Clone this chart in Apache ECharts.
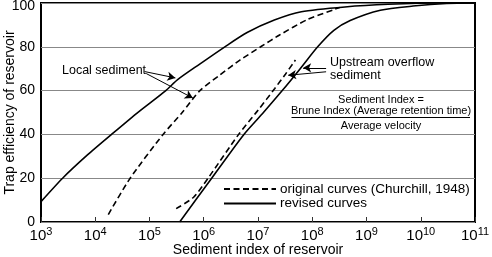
<!DOCTYPE html>
<html>
<head>
<meta charset="utf-8">
<script src="https://cdn.jsdelivr.net/npm/echarts@6/dist/echarts.min.js"></script>
<style>
  html, body { margin: 0; padding: 0; background: #fff; }
  #chart { width: 492px; height: 257px; }
</style>
</head>
<body>
<div id="chart"></div>
<script>
// [sediment index, trap efficiency %]
const localRevised = [
    [1e3, 9.3], [2.5e3, 20], [7.1e3, 30.5], [2.0e4, 40], [6.3e4, 50.3], [2e5, 60],
    [3.3e5, 65], [8.3e5, 72], [2.45e6, 80], [6.3e6, 86.5], [2.0e7, 92.2],
    [6.3e7, 96], [4e8, 98.2], [2.5e9, 99.4], [2.5e10, 100], [1e11, 100]
];
const localOriginal = [
    [1.74e4, 3.4], [4.4e4, 20], [1.78e5, 40], [4e5, 50], [8.5e5, 60], [2e6, 67.2],
    [4.7e6, 74], [1.12e7, 80], [2.5e7, 85.4], [7.9e7, 92.3], [2.5e8, 97], [3.2e8, 98]
];
const upstreamRevised = [
    [3.6e5, 0], [1.4e6, 20], [5.5e6, 40], [1.26e7, 50], [2.8e7, 60], [6e7, 70],
    [1.26e8, 80], [2.5e8, 87.5], [5e8, 92], [1.8e9, 96.7], [7.2e9, 98.6],
    [3e10, 99.8], [1e11, 100]
];
const upstreamOriginal = [
    [3.1e5, 6.1], [6.5e5, 11.3], [1.2e6, 20], [4.4e6, 40], [1e7, 51],
    [2.04e7, 61], [3.2e7, 67.5], [4.9e7, 74]
];
// annotation arrows: [from, to] in data units
const localArrows = [
    [[8.1e4, 68.7], [3.0e5, 65.8]],
    [[8.7e4, 67.8], [6.3e5, 56.6]]
];
const upstreamArrows = [
    [[1.8e8, 70.4], [6.8e7, 70.4]],
    [[1.8e8, 68.6], [3.6e7, 67]]
];

const FONT = '"Liberation Sans", Arial, Helvetica, sans-serif';
const ORIGINAL = 'original curves (Churchill, 1948)';
const REVISED = 'revised curves';

let myChart = echarts.init(document.getElementById('chart'));

function arrows(list) {
    return {
        silent: true,
        symbol: ['none', 'arrow'],
        symbolSize: [7, 8],
        label: {show: false},
        lineStyle: {color: '#000', width: 1, type: 'solid'},
        data: list.map(a => [{coord: a[0]}, {coord: a[1]}])
    };
}

function curve(name, data, dashed, extra) {
    return Object.assign({
        name: name,
        type: 'line',
        data: data,
        smooth: 0.25,
        symbol: 'none',
        silent: true,
        lineStyle: {color: '#000', width: 1.6, type: dashed ? [6, 3.5] : 'solid'},
        itemStyle: {color: '#000'}
    }, extra || {});
}

let option = {
    animation: false,
    textStyle: {fontFamily: FONT, color: '#000'},
    grid: {
        left: 41, right: 17, top: 3, bottom: 35,
        outerBoundsMode: 'none',
        containLabel: false,
        show: true, borderColor: '#000', borderWidth: 2
    },
    legend: {
        orient: 'vertical',
        left: 223, top: 182,
        padding: 0,
        itemWidth: 52, itemHeight: 13, itemGap: 0.5,
        itemStyle: {opacity: 0},
        textStyle: {fontFamily: FONT, fontSize: 13.5, lineHeight: 13, color: '#000', padding: [0, 0, 0, -1]},
        data: [ORIGINAL, REVISED]
    },
    xAxis: {
        type: 'log',
        logBase: 10,
        min: 1e3, max: 1e11,
        name: 'Sediment index of reservoir',
        nameLocation: 'middle',
        nameGap: 21,
        nameMoveOverlap: false,
        nameTextStyle: {fontSize: 14, fontFamily: FONT, color: '#000'},
        axisLine: {show: false},
        axisTick: {inside: true, length: 5, lineStyle: {color: '#333'}},
        splitLine: {show: false},
        axisLabel: {
            margin: 4,
            formatter: v => '{b|10}{s|' + Math.round(Math.log10(v)) + '}',
            rich: {
                b: {fontSize: 15, fontFamily: FONT, color: '#000'},
                s: {fontSize: 11, fontFamily: FONT, color: '#000', padding: [0, 0, 8, 0]}
            }
        }
    },
    yAxis: {
        type: 'value',
        min: 0, max: 100, interval: 20,
        name: 'Trap efficiency of reservoir',
        nameLocation: 'middle',
        nameGap: 24,
        nameMoveOverlap: false,
        nameTextStyle: {fontSize: 14, fontFamily: FONT, color: '#000'},
        axisLine: {show: false},
        axisTick: {show: false},
        splitLine: {lineStyle: {color: '#888', width: 1}},
        axisLabel: {
            fontSize: 14, fontFamily: FONT, color: '#000', margin: 6,
            formatter: v => v === 100 ? '{t|100}' : String(v),
            rich: {t: {fontSize: 14, fontFamily: FONT, color: '#000', padding: [6, 0, 0, 0]}}
        }
    },
    series: [
        curve(ORIGINAL, localOriginal, true),
        curve(REVISED, localRevised, false, {markLine: arrows(localArrows)}),
        curve(ORIGINAL, upstreamOriginal, true),
        curve(REVISED, upstreamRevised, false, {markLine: arrows(upstreamArrows)})
    ],
    graphic: [
        {type: 'text', left: 62, top: 64.5, style: {text: 'Local sediment', font: '12.5px ' + FONT, fill: '#000'}},
        {type: 'text', left: 330, top: 56, style: {text: 'Upstream overflow', font: '12.5px ' + FONT, fill: '#000'}},
        {type: 'text', left: 330, top: 69, style: {text: 'sediment', font: '12.5px ' + FONT, fill: '#000'}},
        {type: 'text', x: 381, y: 100, style: {text: 'Sediment Index =', font: '11px ' + FONT, fill: '#000', align: 'center', verticalAlign: 'middle'}},
        {type: 'text', x: 381, y: 111, style: {text: 'Brune Index (Average retention time)', font: '11px ' + FONT, fill: '#000', align: 'center', verticalAlign: 'middle'}},
        {type: 'line', shape: {x1: 291.5, y1: 117.5, x2: 470, y2: 117.5}, style: {stroke: '#000', lineWidth: 1}},
        {type: 'text', x: 381, y: 125.5, style: {text: 'Average velocity', font: '11px ' + FONT, fill: '#000', align: 'center', verticalAlign: 'middle'}}
    ]
};

myChart.setOption(option);
</script>
</body>
</html>
